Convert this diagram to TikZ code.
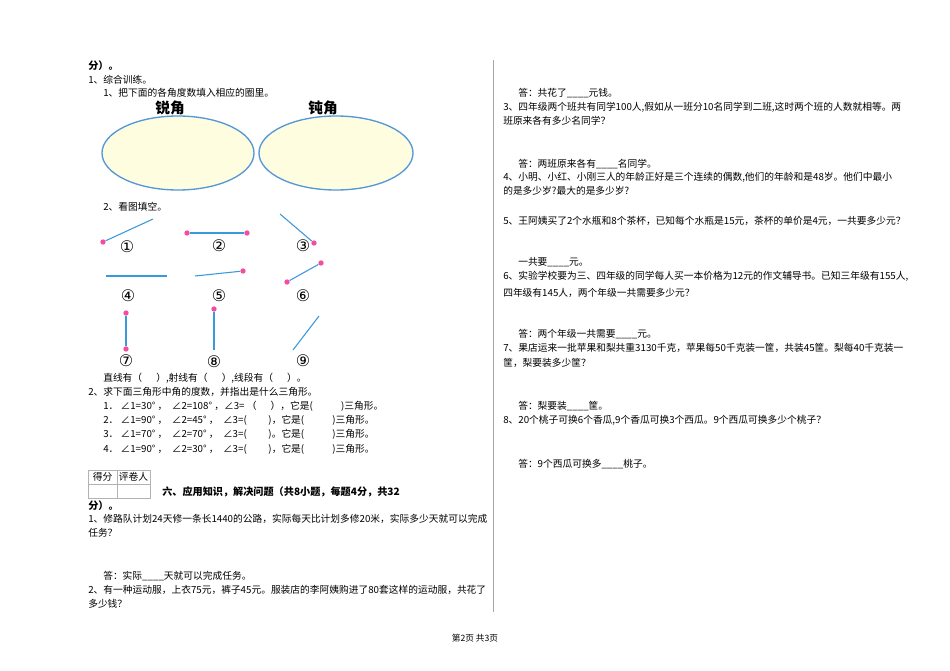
\documentclass[tikz,border=0pt]{standalone}
\usepackage{fontspec}
\setmainfont{Noto Sans CJK SC}
\newfontfamily\djvfont{DejaVu Sans}
\begin{document}
\begin{tikzpicture}[x=0.75pt,y=-0.75pt,
 t/.style={anchor=west,inner sep=0pt,font=\fontsize{7.3}{8}\selectfont},
 b/.style={t,font=\fontsize{7.6}{8}\selectfont\bfseries},
 seg/.style={draw=cyan!70!blue!80,line width=0.8pt},
 dt/.style={circle,fill=magenta!60!pink,inner sep=0pt,minimum size=4pt},
 lb/.style={inner sep=0pt,font=\djvfont\fontsize{12}{12}\selectfont}]
\useasboundingbox (0,0) rectangle (950,671);
\fill[white] (0,0) rectangle (950,671);
\draw[gray!70] (493,60) -- (493,612);
\node[b] at (88,66) {分）。};
\node[t] at (88,80) {1、综合训练。};
\node[t] at (103,93) {1、把下面的各角度数填入相应的圈里。};
\node[inner sep=0pt,font=\fontsize{11}{11}\selectfont\bfseries] at (170,108) {锐角};
\node[inner sep=0pt,font=\fontsize{11}{11}\selectfont\bfseries] at (323,108) {钝角};
\draw[cyan!60!blue!70,fill=yellow!12,line width=1pt] (178,153) ellipse [x radius=76,y radius=37];
\draw[cyan!60!blue!70,fill=yellow!12,line width=1pt] (336,153) ellipse [x radius=77,y radius=37];
\node[t] at (103,207) {2、看图填空。};
% figures
\node[dt] (a1) at (103,242) {}; \coordinate (a2) at (153,219); \draw[seg] (a1)--(a2);
\node[lb] at (127,247) {①};
\node[dt] (b1) at (187,233) {}; \node[dt] (b2) at (247,233) {}; \draw[seg] (b1)--(b2);
\node[lb] at (219,246) {②};
\coordinate (c1) at (280,214); \node[dt] (c2) at (314,243) {}; \draw[seg] (c1)--(c2);
\node[lb] at (303,246) {③};
\coordinate (d1) at (106,276); \coordinate (d2) at (167,276); \draw[seg] (d1)--(d2);
\node[lb] at (128,296) {④};
\coordinate (e1) at (195,276); \node[dt] (e2) at (243,271) {}; \draw[seg] (e1)--(e2);
\node[lb] at (219,296) {⑤};
\node[dt] (f1) at (287,282) {}; \node[dt] (f2) at (321,263) {}; \draw[seg] (f1)--(f2);
\node[lb] at (303,296) {⑥};
\node[dt] (g1) at (126,313) {}; \node[dt] (g2) at (126,349) {}; \draw[seg] (g1)--(g2);
\node[lb] at (126,361) {⑦};
\node[dt] (h1) at (214,309) {}; \coordinate (h2) at (214,350); \draw[seg] (h1)--(h2);
\node[lb] at (214,362) {⑧};
\coordinate (i1) at (293,350); \coordinate (i2) at (319,316); \draw[seg] (i1)--(i2);
\node[lb] at (303,361) {⑨};
\node[t] at (103,378) {直线有（\quad\ \ ）,射线有（\quad\ \ ）,线段有（\quad\ \ ）。};
\node[t] at (88,392) {2、求下面三角形中角的度数，并指出是什么三角形。};
\node[t] at (103,406) {1．\ ∠1=30°\ ，\ \ ∠2=108°\ ，∠3=\ （\quad\ \ ），它是(\qquad\ \ \ \ )三角形。};
\node[t] at (103,420) {2．\ ∠1=90°\ ，\ \ ∠2=45°\ ，\ \ ∠3=(\qquad\ )，它是(\qquad\ \ \ \ )三角形。};
\node[t] at (103,434) {3．\ ∠1=70°\ ，\ \ ∠2=70°\ ，\ \ ∠3=(\qquad\ )。它是(\qquad\ \ \ \ )三角形。};
\node[t] at (103,449) {4．\ ∠1=90°\ ，\ \ ∠2=30°\ ，\ \ ∠3=(\qquad\ )，它是(\qquad\ \ \ \ )三角形。};
% score table
\draw[gray!60] (88,470) rectangle (150,498);
\draw[gray!60] (88,484) -- (150,484);
\draw[gray!60] (117,470) -- (117,498);
\node[inner sep=0pt,font=\fontsize{7.3}{8}\selectfont] at (102.5,477) {得分};
\node[inner sep=0pt,font=\fontsize{7.3}{8}\selectfont] at (133.5,477) {评卷人};
\node[b] at (162,492) {六、应用知识，解决问题（共8小题，每题4分，共32};
\node[b] at (88,506) {分）。};
\node[t] at (88,519) {1、修路队计划24天修一条长1440的公路，实际每天比计划多修20米，实际多少天就可以完成};
\node[t] at (88,533) {任务？};
\node[t] at (103,576) {答：实际\_\_\_\_天就可以完成任务。};
\node[t] at (88,590) {2、有一种运动服，上衣75元，裤子45元。服装店的李阿姨购进了80套这样的运动服，共花了};
\node[t] at (88,604) {多少钱？};
% right column
\node[t] at (518,93) {答：共花了\_\_\_\_元钱。};
\node[t] at (503,107) {3、四年级两个班共有同学100人,假如从一班分10名同学到二班,这时两个班的人数就相等。两};
\node[t] at (503,121) {班原来各有多少名同学？};
\node[t] at (518,164) {答：两班原来各有\_\_\_\_名同学。};
\node[t] at (503,177) {4、小明、小红、小刚三人的年龄正好是三个连续的偶数,他们的年龄和是48岁。他们中最小};
\node[t] at (503,191) {的是多少岁?最大的是多少岁?};
\node[t] at (503,221) {5、王阿姨买了2个水瓶和8个茶杯，已知每个水瓶是15元，茶杯的单价是4元，一共要多少元？};
\node[t] at (518,262) {一共要\_\_\_\_元。};
\node[t] at (503,276) {6、实验学校要为三、四年级的同学每人买一本价格为12元的作文辅导书。已知三年级有155人,};
\node[t] at (503,293) {四年级有145人，两个年级一共需要多少元？};
\node[t] at (518,334) {答：两个年级一共需要\_\_\_\_元。};
\node[t] at (503,348) {7、果店运来一批苹果和梨共重3130千克，苹果每50千克装一筐，共装45筐。梨每40千克装一};
\node[t] at (503,363) {筐，梨要装多少筐？};
\node[t] at (518,406) {答：梨要装\_\_\_\_筐。};
\node[t] at (503,420) {8、20个桃子可换6个香瓜,9个香瓜可换3个西瓜。9个西瓜可换多少个桃子？};
\node[t] at (518,464) {答：9个西瓜可换多\_\_\_\_桃子。};
\node[inner sep=0pt,font=\fontsize{6.5}{7}\selectfont] at (475,638) {第2页 共3页};
\end{tikzpicture}
\end{document}
